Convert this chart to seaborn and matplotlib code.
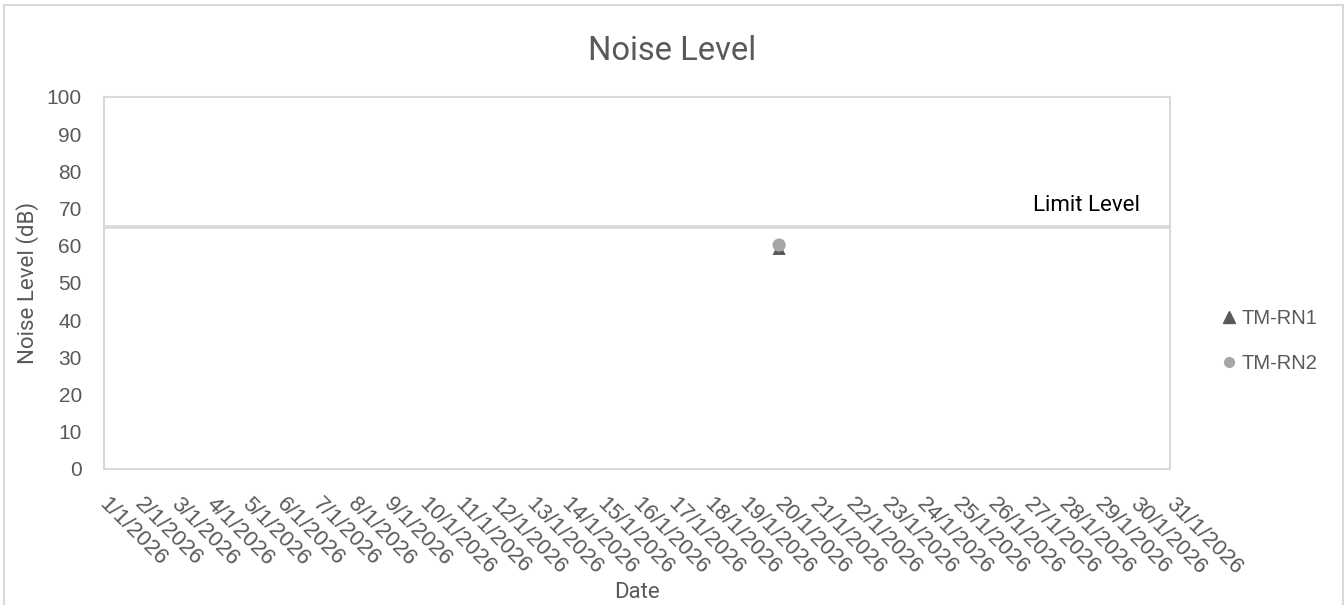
import numpy as np
import pandas as pd
import matplotlib
matplotlib.use("Agg")
import matplotlib.pyplot as plt
import matplotlib.transforms as mtransforms
from matplotlib.lines import Line2D
from matplotlib.patches import Rectangle
import seaborn as sns

# ---- data ----
dates = [f"{d}/1/2026" for d in range(1, 32)]
rn1_day = "20/1/2026"
rn1_value = [59.3]
rn2_day = "20/1/2026"
rn2_value = [60.2]
limit_level = 65
y_ticks = list(range(0, 101, 10))

sns.set_theme(style="white")
plt.rcParams["font.family"] = ["Liberation Sans", "DejaVu Sans"]

TEXT = "#595959"
GRID = "#d9d9d9"

fig = plt.figure(figsize=(13.44, 6.05), dpi=100)
ax = fig.add_axes([104 / 1344, 1 - 469 / 605, (1170 - 104) / 1344, (469 - 97) / 605])

pos = {d: i for i, d in enumerate(dates)}
df = pd.DataFrame({
    "x": [pos[rn1_day]] * len(rn1_value) + [pos[rn2_day]] * len(rn2_value),
    "value": rn1_value + rn2_value,
    "series": ["TM-RN1"] * len(rn1_value) + ["TM-RN2"] * len(rn2_value),
})

# limit line
ax.axhline(limit_level, color=GRID, lw=2.6, zorder=1)
ax.text(len(dates) - 1.85, limit_level + 2.9, "Limit Level", ha="right", va="bottom",
        fontsize=16, color="black", family=["Roboto", "DejaVu Sans"])

sns.scatterplot(data=df, x="x", y="value", hue="series", style="series",
                markers={"TM-RN1": "^", "TM-RN2": "o"},
                palette={"TM-RN1": "#595959", "TM-RN2": "#a6a6a6"},
                s=90, linewidth=0, legend=False, ax=ax, zorder=3)

# categories sit on the tick marks, first and last on the plot edges
ax.set_xlim(0, len(dates) - 1)
ax.set_ylim(0, 100)
ax.set_yticks(y_ticks)
ax.set_yticklabels([str(v) for v in y_ticks])
ax.set_xticks(range(len(dates)))
ax.set_xticklabels(dates, rotation=-45, ha="left", va="top", rotation_mode="anchor")

ax.tick_params(axis="both", length=0, colors=TEXT)
ax.tick_params(axis="y", pad=16, labelsize=15)
ax.tick_params(axis="x", pad=17.5, labelsize=16)
shift = mtransforms.ScaledTranslation(6 / 100, 0, fig.dpi_scale_trans)
for lab in ax.get_xticklabels():
    lab.set_transform(lab.get_transform() + shift)

for sp in ax.spines.values():
    sp.set_color(GRID)
    sp.set_linewidth(1.5)

ax.set_xlabel("Date", fontsize=16, color=TEXT, family=["Roboto", "DejaVu Sans"])
ax.xaxis.set_label_coords(0.5, -0.304)
ax.set_ylabel("Noise Level (dB)", fontsize=16, color=TEXT, family=["Roboto", "DejaVu Sans"])
ax.yaxis.set_label_coords(-0.061, 0.5)

fig.text(672 / 1344, 1 - 51 / 605, "Noise Level", ha="center", va="center",
         fontsize=23.5, color=TEXT, family=["Roboto", "DejaVu Sans"])

handles = [
    Line2D([], [], ls="none", marker="^", color="#595959", markersize=8),
    Line2D([], [], ls="none", marker="o", color="#a6a6a6", markersize=7),
]
fig.legend(handles, ["TM-RN1", "TM-RN2"], loc="center left",
           bbox_to_anchor=(1205 / 1344, 1 - 341 / 605), frameon=False,
           fontsize=14.5, labelcolor=TEXT, handlelength=0.6, handletextpad=0.3,
           labelspacing=1.3)

# chart border
fig.patches.append(Rectangle((4 / 1344, -0.01), (1343 - 4) / 1344, 1 - 5 / 605 + 0.01,
                             transform=fig.transFigure, fill=False,
                             edgecolor=GRID, lw=1.5))

fig.savefig("out.png", dpi=100)
